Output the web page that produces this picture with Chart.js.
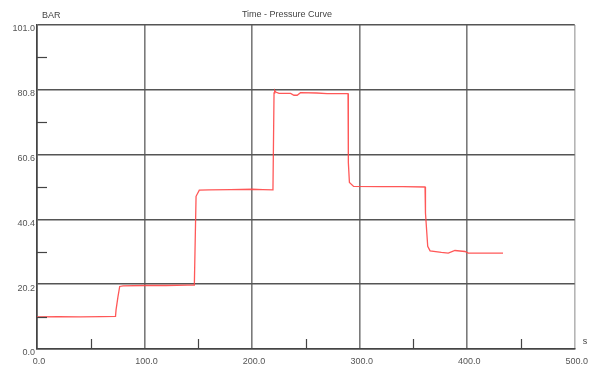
<!DOCTYPE html>
<html>
<head>
<meta charset="utf-8">
<script src="https://cdn.jsdelivr.net/npm/chart.js@4/dist/chart.umd.min.js"></script>
<style>
  html, body { margin: 0; padding: 0; background: #ffffff; }
  #wrap { width: 593px; height: 370px; position: relative; }
</style>
</head>
<body>
<div id="wrap"><canvas id="c" width="593" height="370"></canvas></div>
<script>
// ---- data ----
const timeSeconds = [0, 20, 40, 60, 73, 73.5, 75.3, 76.9, 80, 100, 120, 140, 146.3, 147.9, 150.9, 160, 180, 200, 210, 219.4,
  220.4, 221, 222, 225, 235.8, 238.9, 241.9, 245, 260, 269.7, 289.2, 289.5, 290.5, 294.4, 320, 340, 360.8,
  361.2, 363.3, 365.5, 376, 382.4, 388.6, 397.9, 401, 415, 433.3];
const pressureBar = [10.0, 10.1, 10.0, 10.1, 10.2, 12.2, 16.3, 19.5, 19.7, 19.8, 19.8, 19.9, 19.9, 47.6, 49.5, 49.6, 49.7, 49.8, 49.7, 49.6,
  79.8, 80.6, 80.1, 79.7, 79.7, 79.1, 79.1, 79.9, 79.8, 79.6, 79.6, 58.1, 51.9, 50.7, 50.6, 50.6, 50.5,
  42.4, 32.0, 30.6, 30.1, 29.9, 30.7, 30.4, 29.9, 29.9, 29.9];
const xTickValues = [0, 100, 200, 300, 400, 500];
const yTickValues = [0, 20.2, 40.4, 60.6, 80.8, 101.0];
const xMinorTicks = [50, 150, 250, 350, 450];
const yMinorTicks = [10.1, 30.3, 50.5, 70.7, 90.9];
const chartTitle = 'Time - Pressure Curve';
const yUnit = 'BAR';
const xUnit = 's';

const FONT = '"Liberation Sans", Arial, sans-serif';

const extrasPlugin = {
  id: 'extras',
  afterDraw(chart) {
    const ctx = chart.ctx;
    const xs = chart.scales.x, ys = chart.scales.y;
    const area = chart.chartArea;
    ctx.save();
    // minor ticks
    ctx.strokeStyle = '#444';
    ctx.lineWidth = 1.2;
    yMinorTicks.forEach(v => {
      const py = Math.round(ys.getPixelForValue(v)) + 0.5;
      ctx.beginPath(); ctx.moveTo(area.left, py); ctx.lineTo(area.left + 10, py); ctx.stroke();
    });
    xMinorTicks.forEach(v => {
      const px = Math.round(xs.getPixelForValue(v)) + 0.5;
      ctx.beginPath(); ctx.moveTo(px, area.bottom); ctx.lineTo(px, area.bottom - 10); ctx.stroke();
    });
    // texts
    ctx.fillStyle = '#444';
    ctx.font = '9px ' + FONT;
    ctx.textBaseline = 'middle';
    ctx.textAlign = 'left';
    ctx.fillText(yUnit, area.left + 5, 16);
    ctx.textAlign = 'center';
    ctx.fillText(chartTitle, 287, 15);
    ctx.textAlign = 'left';
    ctx.fillText(xUnit, area.right + 8, area.bottom - 7);
    ctx.restore();
  }
};

new Chart(document.getElementById('c'), {
  type: 'line',
  data: {
    datasets: [{
      data: timeSeconds.map((t, i) => ({ x: t, y: pressureBar[i] })),
      borderColor: 'rgba(255,70,70,0.9)',
      borderWidth: 1.3,
      pointRadius: 0,
      tension: 0,
      fill: false
    }]
  },
  options: {
    responsive: false,
    animation: false,
    devicePixelRatio: 1,
    layout: { padding: { top: 25, right: 16, left: 0, bottom: 0 } },
    plugins: { legend: { display: false }, title: { display: false }, tooltip: { enabled: false } },
    scales: {
      x: {
        type: 'linear',
        min: 0, max: 500,
        afterBuildTicks: s => { s.ticks = xTickValues.map(v => ({ value: v })); },
        afterFit: s => { s.height = 21; },
        grid: {
          drawTicks: false,
          color: c => (c.tick && c.tick.value === 500) ? '#b5b5b5' : '#7a7a7a',
          lineWidth: 1.6
        },
        border: { display: true, color: '#444', width: 1.6 },
        ticks: {
          padding: 7,
          labelOffset: 2,
          maxRotation: 0,
          autoSkip: false,
          color: '#555',
          font: { family: FONT, size: 9 },
          callback: v => Number(v).toFixed(1)
        }
      },
      y: {
        type: 'linear',
        min: 0, max: 101,
        afterBuildTicks: s => { s.ticks = yTickValues.map(v => ({ value: v })); },
        afterFit: s => { s.width = 37; },
        grid: {
          drawTicks: false,
          color: '#555',
          lineWidth: 1.6
        },
        border: { display: true, color: '#444', width: 1.6 },
        ticks: {
          padding: 2,
          labelOffset: 4,
          autoSkip: false,
          color: '#555',
          font: { family: FONT, size: 9 },
          callback: v => Number(v).toFixed(1)
        }
      }
    }
  },
  plugins: [extrasPlugin]
});
</script>
</body>
</html>
